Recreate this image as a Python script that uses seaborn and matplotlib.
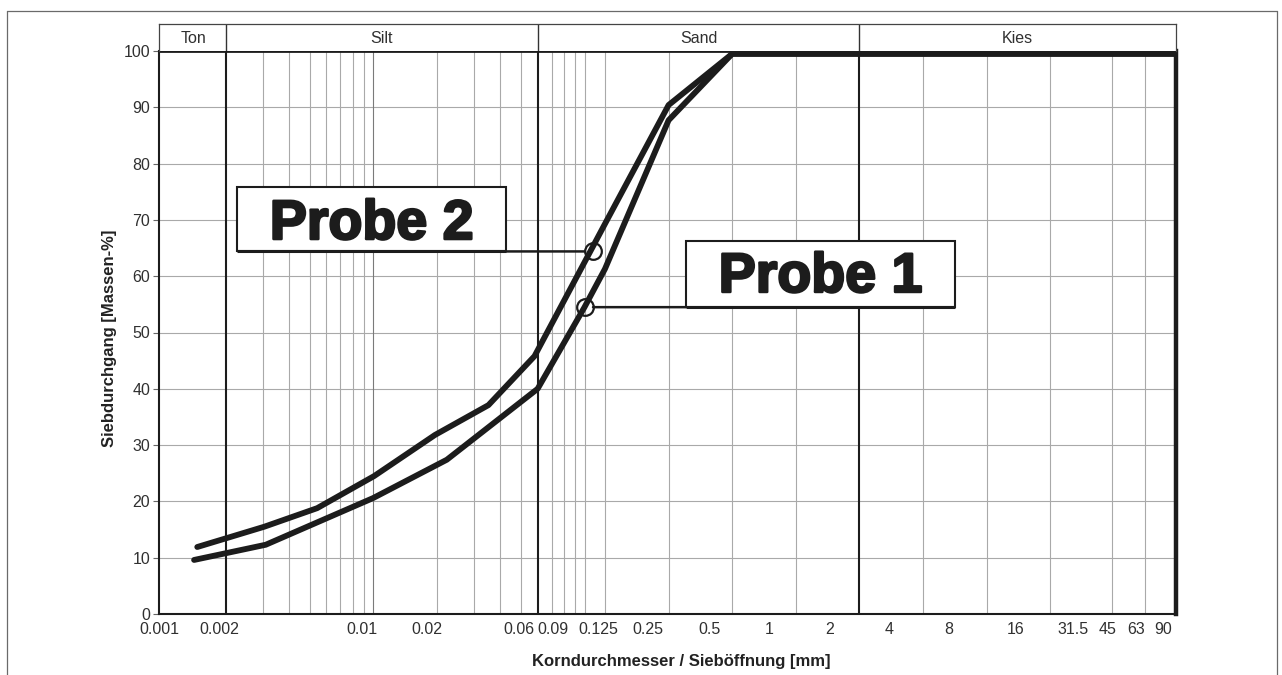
import numpy as np
import pandas as pd
import matplotlib
matplotlib.use("Agg")
import matplotlib.pyplot as plt
import matplotlib.transforms as mtransforms
import matplotlib.patheffects as pe
from matplotlib.lines import Line2D
from matplotlib.patches import Rectangle
from matplotlib.ticker import NullLocator
import seaborn as sns

# ---------------- data ----------------
probe1_d = [0.00142, 0.0031, 0.0100, 0.0223, 0.06, 0.1, 0.125, 0.25, 0.5, 63]
probe1_p = [9.6, 12.3, 20.6, 27.4, 40.0, 54.5, 61.3, 87.7, 99.5, 99.5]
probe2_d = [0.00147, 0.00305, 0.00543, 0.0101, 0.0196, 0.0351, 0.058, 0.125, 0.25, 0.5, 63]
probe2_p = [11.9, 15.5, 18.8, 24.5, 31.8, 37.1, 45.8, 69.3, 90.4, 99.5, 99.5]

marker_names = ["Probe 2", "Probe 1"]
marker_d = [0.110, 0.1002]
marker_p = [64.4, 54.5]

region_names = ["Ton", "Silt", "Sand", "Kies"]
region_bounds = [0.001, 0.002, 0.06, 2, 63]

minor_grid = [0.003, 0.004, 0.005, 0.006, 0.007, 0.008, 0.009, 0.01,
              0.02, 0.03, 0.04, 0.05, 0.07, 0.08, 0.09, 0.1, 0.125,
              0.25, 0.5, 1, 4, 8, 16, 31.5, 45]

xtick_labels = ["0.001", "0.002", "0.01", "0.02", "0.06", "0.09", "0.125", "0.25",
                "0.5", "1", "2", "4", "8", "16", "31.5", "45", "63", "90"]
# where the labels sit along the (log) axis in the original figure
xtick_label_pos = [0.000972, 0.00187, 0.00886, 0.0180, 0.0490, 0.0711, 0.116, 0.200,
                   0.390, 0.748, 1.444, 2.777, 5.32, 10.96, 20.5, 29.97, 40.7, 54.8]
yticks = list(range(0, 101, 10))

# ---------------- style ----------------
sns.set_style("white")
plt.rcParams["font.family"] = ["Liberation Sans", "DejaVu Sans"]

INK = "#1c1c1c"
GRID = "#a9a9a9"
TXT = "#303030"

fig = plt.figure(figsize=(12.82, 6.75), dpi=100)
W, H = 1282, 675
L, R, B, T = 159.3 / W, 1176 / W, 1 - 614 / H, 1 - 51 / H
ax = fig.add_axes([L, B, R - L, T - B])

df = pd.concat([
    pd.DataFrame({"d": probe1_d, "p": probe1_p, "probe": "Probe 1"}),
    pd.DataFrame({"d": probe2_d, "p": probe2_p, "probe": "Probe 2"}),
])
sns.lineplot(data=df, x="d", y="p", hue="probe",
             palette={"Probe 1": INK, "Probe 2": INK},
             estimator=None, sort=False, legend=False, lw=4.2, ax=ax, zorder=4)

ax.set_xscale("log")
ax.set_xlim(region_bounds[0], region_bounds[-1])
ax.set_ylim(0, 100)

# grid
for v in yticks[1:-1]:
    ax.axhline(v, color=GRID, lw=0.8, zorder=1)
for v in minor_grid:
    ax.axvline(v, color=("#7a7a7a" if v == 0.01 else GRID), lw=0.8, zorder=1)
for v in region_bounds[1:-1]:
    ax.axvline(v, color=INK, lw=1.5, zorder=2)

# ticks
ax.xaxis.set_minor_locator(NullLocator())
ax.set_xticks(xtick_label_pos)
ax.set_xticklabels(xtick_labels)
ax.set_yticks(yticks)
ax.tick_params(axis="x", length=0, pad=6, labelsize=11.5, labelcolor=TXT)
ax.tick_params(axis="y", left=True, length=4.5, width=0.8, color="#666666",
               pad=2, labelsize=11.5, labelcolor=TXT)

for s, lw in {"left": 1.5, "bottom": 1.5, "top": 2.0, "right": 3.2}.items():
    ax.spines[s].set_color(INK)
    ax.spines[s].set_linewidth(lw)
    ax.spines[s].set_zorder(5)

ax.set_xlabel("Korndurchmesser / Sieböffnung [mm]", fontsize=12,
              fontweight="bold", color="#222222")
ax.xaxis.set_label_coords(0.5 + 14 / 1017, -0.071)
ax.set_ylabel("Siebdurchgang [Massen-%]", fontsize=12,
              fontweight="bold", color="#222222")
ax.yaxis.set_label_coords(-0.0415, 0.49)

# header band with soil classes
hh = (51 - 24.3) / H
hax = fig.add_axes([L, T, R - L, hh], sharex=ax)
hax.set_ylim(0, 1)
hax.tick_params(bottom=False, labelbottom=False, left=False, labelleft=False)
for s in ["left", "right", "top"]:
    hax.spines[s].set_color("#444444")
    hax.spines[s].set_linewidth(0.9)
hax.spines["bottom"].set_visible(False)
for v in region_bounds[1:-1]:
    hax.axvline(v, color="#333333", lw=1.0)
for name, a, b in zip(region_names, region_bounds[:-1], region_bounds[1:]):
    hax.text(np.sqrt(a * b), 0.46, name, ha="center", va="center",
             fontsize=11.5, color=TXT)
hax.set_facecolor("white")

# markers and labelled boxes
ax.plot(marker_d, marker_p, "o", ms=12, mfc="none", mec=INK, mew=1.6, zorder=6)

trans = mtransforms.blended_transform_factory(ax.transAxes, ax.transData)
box_x0 = [0.0764, 0.5178]
box_x1 = [0.3410, 0.7826]
box_h = [11.4, 11.8]
text_base = [66.6, 57.2]
for i, name in enumerate(marker_names):
    y0 = marker_p[i]
    ax.add_patch(Rectangle((box_x0[i], y0), box_x1[i] - box_x0[i], box_h[i],
                           transform=trans, facecolor="white", edgecolor=INK,
                           lw=1.5, zorder=5))
    ax.plot([box_x0[i], box_x1[i]], [y0, y0], transform=trans, color=INK,
            lw=2.2, zorder=5, solid_capstyle="butt")
    edge = box_x1[i] if i == 0 else box_x0[i]
    ax.annotate("", xy=(marker_d[i], marker_p[i]), xycoords="data",
                xytext=(edge, y0), textcoords=trans,
                arrowprops=dict(arrowstyle="-", color=INK, lw=1.8,
                                shrinkA=0, shrinkB=6), zorder=5)
    ax.text((box_x0[i] + box_x1[i]) / 2, text_base[i], name, transform=trans,
            ha="center", va="baseline", fontsize=40, fontweight="bold",
            color=INK, zorder=6,
            path_effects=[pe.withStroke(linewidth=1.8, foreground=INK)])

# page frame
fx0, fx1, fy1 = 7 / W, 1277 / W, 1 - 11 / H
for xs, ys in [([fx0, fx1], [fy1, fy1]), ([fx0, fx0], [0, fy1]), ([fx1, fx1], [0, fy1])]:
    fig.add_artist(Line2D(xs, ys, transform=fig.transFigure, color="#6a6a6a", lw=0.9))

fig.savefig("out.png", dpi=100, facecolor="white")
